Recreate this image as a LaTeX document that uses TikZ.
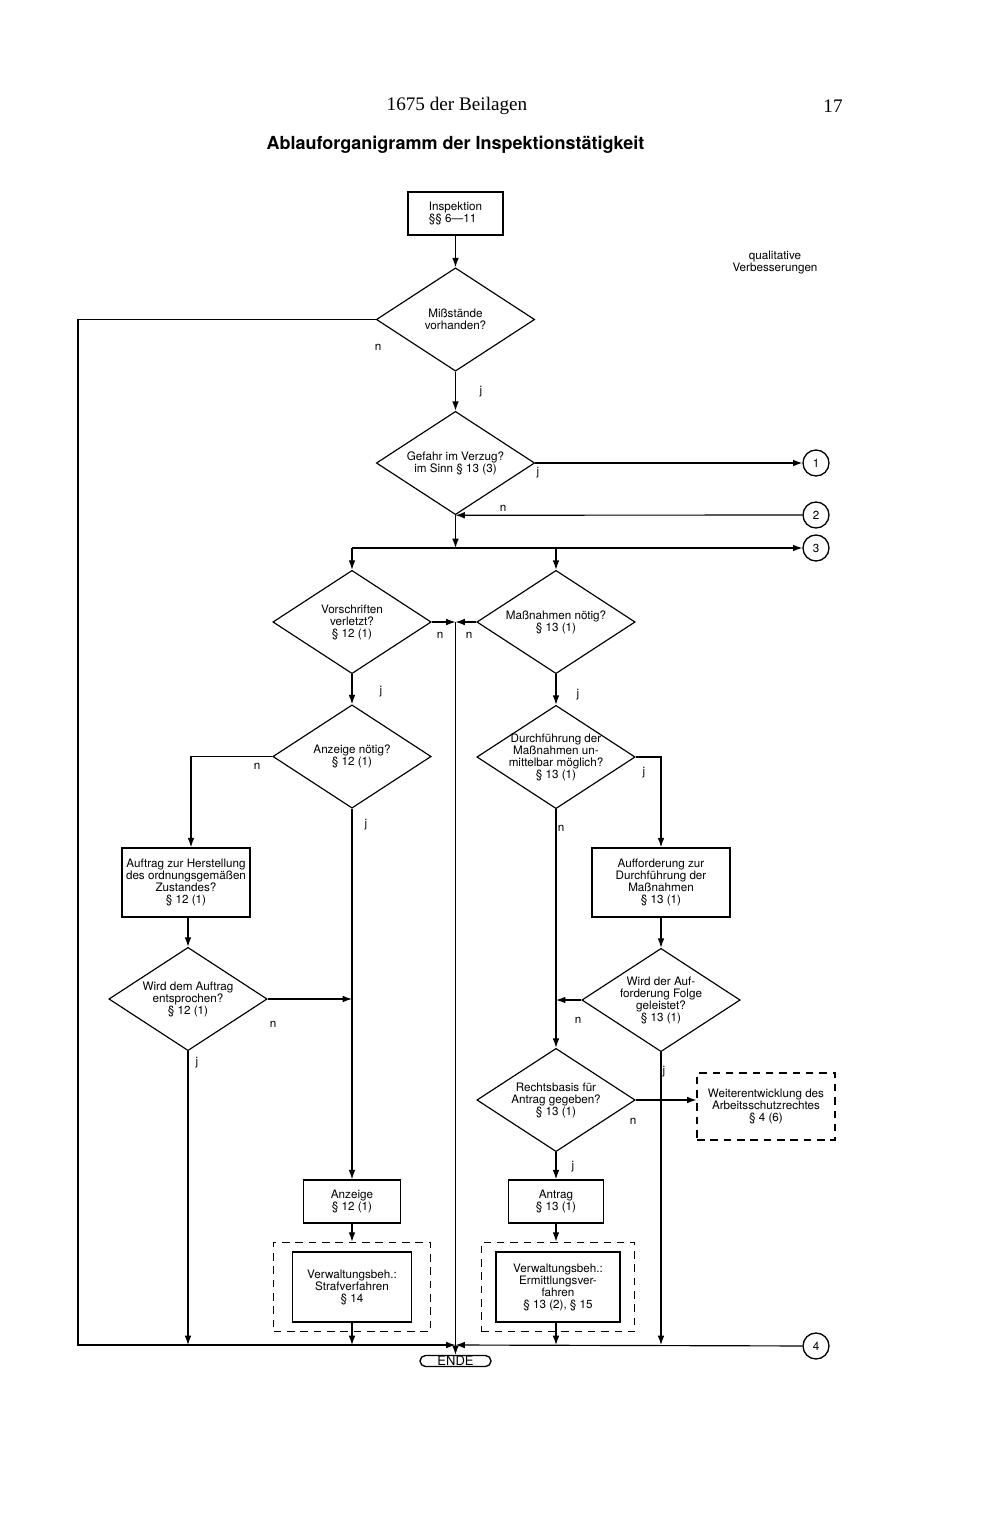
\documentclass[tikz,border=0pt]{standalone}
\usepackage{fontspec}
\setmainfont{TeX Gyre Heros}
\newfontfamily\headfont{Liberation Serif}
\usetikzlibrary{positioning,arrows.meta,shapes.geometric,fit}
\newcommand{\chartfont}{\fontsize{7}{7.2}\selectfont}
\tikzset{
  box/.style={draw, line width=0.9pt, font=\chartfont, align=center, inner sep=1pt},
  dec/.style={draw, diamond, aspect=1.54, line width=0.7pt, minimum width=95pt, minimum height=62pt, inner sep=0pt, font=\chartfont, align=center},
  conn/.style={draw, circle, line width=0.8pt, minimum size=15.6pt, inner sep=0pt, font=\chartfont},
  dbox/.style={draw, dash pattern=on 4.5pt off 3.5pt, line width=0.7pt},
  term/.style={draw, rounded corners=3.3pt, line width=0.8pt, minimum width=42.6pt, minimum height=6.6pt, inner sep=0pt, font=\fontsize{7.8}{8}\selectfont},
  lbl/.style={font=\chartfont, inner sep=0pt},
  flow/.style={-{Latex[length=5.6pt,width=4pt]}, line width=0.7pt},
  wire/.style={line width=0.7pt},
}

\begin{document}
\begin{tikzpicture}[x=0.6pt, y=-0.6pt]
\useasboundingbox (0,0) rectangle (994,1530);
% Kopfzeile
\node[font=\headfont\fontsize{11.5}{13}\selectfont] (kopf) at (457,106) {1675 der Beilagen};
\node[font=\headfont\fontsize{11.5}{13}\selectfont] (seite) at (833,106) {17};
\node[font=\bfseries\fontsize{10.8}{13}\selectfont] (titel) at (455.5,145) {Ablauforganigramm der Inspektionstätigkeit};
% oberer Teil
\node[box, minimum width=57pt, minimum height=25.8pt, align=left] (insp) at (455.5,213.5) {Inspektion\\§§ 6—11};
\node[dec] (miss) at (455.5,319.5) {Mißstände\\vorhanden?};
\node[dec] (gef) at (455.5,463) {Gefahr im Verzug?\\im Sinn § 13 (3)};
\node[lbl, align=center] (qual) at (775,263) {qualitative\\Verbesserungen};
\node[conn] (k1) at (816,463) {1};
\node[conn] (k2) at (816,515) {2};
\node[conn] (k3) at (816,548) {3};
\node[conn] (k4) at (816,1346) {4};
\coordinate (split) at (455.5,548);
% linker Zweig
\node[dec] (vor) at (352,622) {Vorschriften\\verletzt?\\§ 12 (1)};
\node[dec] (anz) at (352,756.5) {Anzeige nötig?\\§ 12 (1)};
\node[box, minimum width=76.8pt, minimum height=41.4pt] (auftrag) at (186,882.5) {Auftrag zur Herstellung\\des ordnungsgemäßen\\Zustandes?\\§ 12 (1)};
\node[dec] (wird) at (188,999) {Wird dem Auftrag\\entsprochen?\\§ 12 (1)};
\node[box, minimum width=58.2pt, minimum height=25.8pt] (anzb) at (352,1201.5) {Anzeige\\§ 12 (1)};
\node[box, minimum width=71.4pt, minimum height=42pt] (straf) at (352,1287) {Verwaltungsbeh.:\\Strafverfahren\\§ 14};
\node[dbox, fit=(straf), inner xsep=10.8pt, inner ysep=5.4pt] (strafr) {};
% rechter Zweig
\node[dec] (mas) at (556,622) {Maßnahmen nötig?\\§ 13 (1)};
\node[dec, inner xsep=-14pt] (dur) at (556,757) {Durchführung der\\Maßnahmen un-\\mittelbar möglich?\\§ 13 (1)};
\node[box, minimum width=82.8pt, minimum height=41.4pt] (auff) at (661,882.5) {Aufforderung zur\\Durchführung der\\Maßnahmen\\§ 13 (1)};
\node[dec] (folge) at (661,1000) {Wird der Auf-\\forderung Folge\\geleistet?\\§ 13 (1)};
\node[dec] (rech) at (556,1100) {Rechtsbasis für\\Antrag gegeben?\\§ 13 (1)};
\node[dbox, font=\chartfont, align=center, minimum width=82.8pt, minimum height=40.2pt] (weiter) at (766,1106.5) {Weiterentwicklung des\\Arbeitsschutzrechtes\\§ 4 (6)};
\node[box, minimum width=57pt, minimum height=25.8pt] (antrag) at (556,1201.5) {Antrag\\§ 13 (1)};
\node[box, minimum width=74.4pt, minimum height=42pt] (ermit) at (558,1287) {Verwaltungsbeh.:\\Ermittlungsver-\\fahren\\§ 13 (2), § 15};
\node[dbox, fit=(ermit), inner xsep=8.4pt, inner ysep=5.4pt] (ermitr) {};
% Ende
\node[term] (ende) at (455.5,1361) {ENDE};
\coordinate (eckl) at (78,1345);
\coordinate (mitte) at (455.5,1345);
\coordinate (kreuz) at (455.5,622);
% Verbindungen
\draw[flow] (insp.south) -- (miss.north);
\draw[flow] (miss.west) -| (eckl) -- (mitte);
\draw[flow] (k4) -- (mitte);
\draw[flow] (miss.south) -- (gef.north);
\draw[flow] (gef.east) -- (k1);
\draw[flow] (k2) -- (gef.south);
\draw[flow] (gef.south) -- (split);
\draw[flow] (vor.north |- split) -- (k3);
\draw[flow] (vor.north |- split) -- (vor.north);
\draw[flow] (mas.north |- split) -- (mas.north);
\draw[flow] (vor.east) -- (kreuz);
\draw[flow] (mas.west) -- (kreuz);
\draw[flow] (kreuz) -- (ende.north);
\draw[flow] (vor.south) -- (anz.north);
\draw[flow] (mas.south) -- (dur.north);
\draw[flow] (anz.west) -| ([xshift=3pt]auftrag.north);
\draw[flow] (anz.south) -- (anzb.north);
\draw[flow] (dur.east) -| (auff.north);
\draw[flow] (dur.south) -- (rech.north);
\draw[flow] (wird.north |- auftrag.south) -- (wird.north);
\draw[flow] (wird.east) -- (wird.east -| anz.south);
\draw[flow] (wird.south) -- (wird.south |- mitte);
\draw[flow] (auff.south) -- (folge.north);
\draw[flow] (folge.west) -- (folge.west -| dur.south);
\draw[flow] (folge.south) -- (folge.south |- mitte);
\draw[flow] (rech.east) -- (rech.east -| weiter.west);
\draw[flow] (rech.south) -- (antrag.north);
\draw[flow] (anzb.south) -- (strafr.north);
\draw[flow] (straf.south) -- (straf.south |- mitte);
\draw[flow] (antrag.south) -- (antrag.south |- ermitr.north);
\draw[flow] (antrag.south |- ermit.south) -- (antrag.south |- mitte);
% j/n
\node[lbl] (nmiss) at (378,347) {n};
\node[lbl] (jmiss) at (481,392) {j};
\node[lbl] (jgef) at (538,473) {j};
\node[lbl] (ngef) at (503,508) {n};
\node[lbl] (nvor) at (440,635) {n};
\node[lbl] (nmas) at (469,635) {n};
\node[lbl] (jvor) at (381,692) {j};
\node[lbl] (jmas) at (578,695) {j};
\node[lbl] (nanz) at (257,766) {n};
\node[lbl] (janz) at (366,825) {j};
\node[lbl] (jdur) at (644,773) {j};
\node[lbl] (ndur) at (561,828) {n};
\node[lbl] (nwird) at (273,1024) {n};
\node[lbl] (jwird) at (197,1063) {j};
\node[lbl] (nfolge) at (578,1020) {n};
\node[lbl] (jfolge) at (664,1072) {j};
\node[lbl] (nrech) at (633,1121) {n};
\node[lbl] (jrech) at (573,1167) {j};
\end{tikzpicture}
\end{document}
